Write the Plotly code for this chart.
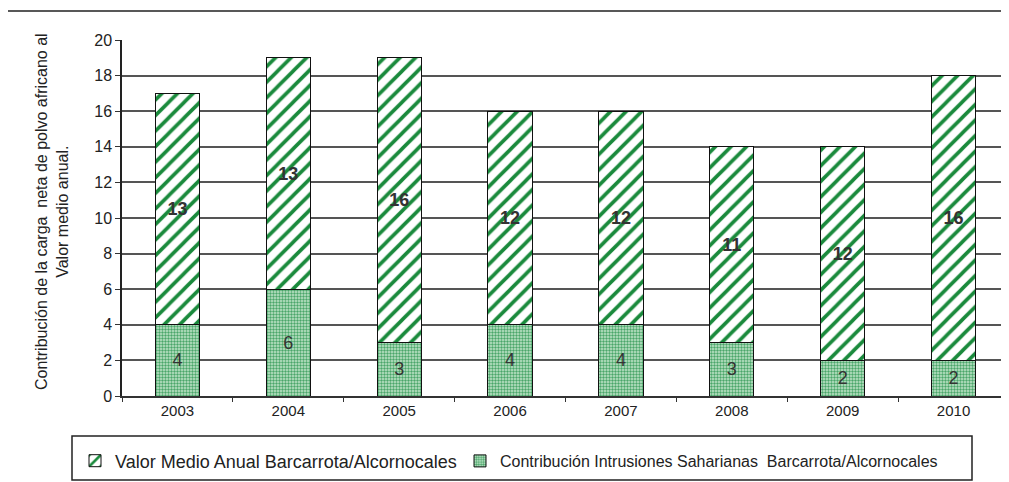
import plotly.graph_objects as go

years = ["2003", "2004", "2005", "2006", "2007", "2008", "2009", "2010"]
contrib = [4, 6, 3, 4, 4, 3, 2, 2]
valor_medio = [13, 13, 16, 12, 12, 11, 12, 16]

name_valor = "Valor Medio Anual Barcarrota/Alcornocales"
name_contrib = "Contribución Intrusiones Saharianas  Barcarrota/Alcornocales"

FONT = "Liberation Sans, Arial, sans-serif"
GREEN = "#1a8a3c"

fig = go.Figure()
fig.add_trace(go.Bar(
    x=years, y=contrib, name=name_contrib, legend="legend2",
    marker=dict(color="#b8e0c2", line=dict(color="#111111", width=1),
                pattern=dict(shape=".", fgcolor="#4aa66a", bgcolor="#c4e6cc", size=3,
                             solidity=0.5, fgopacity=1)),
    text=[str(v) for v in contrib], textposition="inside", insidetextanchor="middle",
    textfont=dict(family=FONT, size=18, color="#333333"), width=0.4,
))
fig.add_trace(go.Bar(
    x=years, y=valor_medio, name=name_valor, legend="legend",
    marker=dict(color="white", line=dict(color="#111111", width=1),
                pattern=dict(shape="/", fgcolor=GREEN, bgcolor="white", size=11,
                             solidity=0.33, fgopacity=1)),
    text=["<b>%d</b>" % v for v in valor_medio], textposition="inside", insidetextanchor="middle",
    textfont=dict(family=FONT, size=18, color="#333333"), width=0.4,
))

# page body has an 8px margin; figure coordinates are screen coordinates minus 8
OFF = 8
W, H = 1001, 474
L, R = 122 - OFF, 0
T = 40 - OFF
B = H - (396 - OFF)
pw = W - L - R
ph = H - T - B

def px(x):
    return (x - OFF - L) / pw

def py(y):
    return (H - B - (y - OFF)) / ph

fig.update_layout(
    barmode="stack",
    width=W, height=H,
    margin=dict(l=L, r=R, t=T, b=B, autoexpand=False),
    paper_bgcolor="white", plot_bgcolor="white",
    font=dict(family=FONT, color="#222222"),
    showlegend=True,
    legend=dict(x=px(75), y=py(461), xanchor="left", yanchor="middle",
                orientation="h", font=dict(family=FONT, size=18, color="#222222"),
                bgcolor="rgba(0,0,0,0)", itemwidth=30),
    legend2=dict(x=px(460), y=py(461), xanchor="left", yanchor="middle",
                 orientation="h", font=dict(family=FONT, size=16, color="#222222"),
                 bgcolor="rgba(0,0,0,0)", itemwidth=30),
    xaxis=dict(type="category", showline=True, linecolor="#333333", linewidth=1.5,
               ticks="outside", tickson="boundaries", ticklen=4, tickcolor="#333333",
               tickfont=dict(family=FONT, size=15, color="#222222"), showgrid=False),
    yaxis=dict(range=[0, 20], dtick=2, showline=True, linecolor="#222222", linewidth=1.5,
               ticks="outside", ticklen=5, tickcolor="#333333",
               showgrid=True, gridcolor="#555555", gridwidth=1.5, zeroline=False,
               tickfont=dict(family=FONT, size=16, color="#222222")),
    shapes=[
        dict(type="rect", xref="paper", yref="paper", x0=px(7), x1=px(1040), y0=py(520), y1=py(11),
             line=dict(color="#222222", width=1.5), fillcolor="rgba(0,0,0,0)", layer="below"),
        dict(type="rect", xref="paper", yref="paper", x0=px(72), x1=px(972), y0=py(480), y1=py(436),
             line=dict(color="#222222", width=1.5), fillcolor="rgba(0,0,0,0)", layer="below"),
    ],
    annotations=[
        dict(text="Contribución de la carga  neta de polvo africano al<br>Valor medio anual.",
             xref="paper", yref="paper", x=px(52), y=py(212), xanchor="center", yanchor="middle",
             textangle=-90, showarrow=False, font=dict(family=FONT, size=16, color="#222222")),
    ],
)

fig.write_html("out.html")
